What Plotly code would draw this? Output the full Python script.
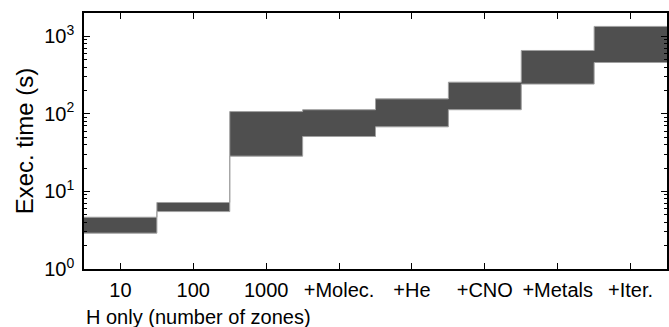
import plotly.graph_objects as go

categories = ["10", "100", "1000", "+Molec.", "+He", "+CNO", "+Metals", "+Iter."]
upper = [4.65, 7.2, 107, 113, 156, 256, 656, 1340]
lower = [2.9, 5.5, 28.5, 51, 68, 113, 242, 459]

n = len(categories)
edges = [i - 0.5 for i in range(n + 1)]
yu = upper + [upper[-1]]
yl = lower + [lower[-1]]

FONT = "Liberation Sans, Arial, Helvetica, sans-serif"
fig = go.Figure()
fig.add_trace(go.Scatter(x=edges, y=yu, mode="lines", line=dict(shape="hv", color="#a0a0a0", width=1),
                         hoverinfo="skip", showlegend=False))
fig.add_trace(go.Scatter(x=edges, y=yl, mode="lines", line=dict(shape="hv", color="#a0a0a0", width=1),
                         fill="tonexty", fillcolor="#4f4f4f", hoverinfo="skip", showlegend=False))

fig.update_layout(
    width=669, height=327,
    margin=dict(l=84, r=0, t=13, b=58),
    paper_bgcolor="white", plot_bgcolor="white",
    font=dict(family=FONT, size=20, color="black"),
    xaxis=dict(range=[-0.5, n - 0.5], tickvals=list(range(n)), ticktext=categories,
               ticks="inside", ticklen=6, tickwidth=1, tickcolor="black",
               showline=True, linecolor="black", linewidth=1.5, mirror="allticks",
               showgrid=False, zeroline=False, ticklabelstandoff=2),
    yaxis=dict(type="log", range=[0, 3.3], tickvals=[1, 10, 100, 1000],
               ticktext=["10<sup>0</sup>", "10<sup>1</sup>", "10<sup>2</sup>", "10<sup>3</sup>"],
               ticks="inside", ticklen=6, tickwidth=1, tickcolor="black",
               minor=dict(ticks="inside", ticklen=3, tickcolor="black", tickwidth=1, showgrid=False,
                          tickvals=[m * 10 ** e for e in range(0, 4) for m in range(2, 10)]),
               showline=True, linecolor="black", linewidth=1.5, mirror="allticks",
               showgrid=False, zeroline=False, ticklabelstandoff=4,
               title=dict(text="Exec. time (s)", standoff=4)),
)
fig.add_annotation(text="H only (number of zones)", xref="paper", yref="paper", x=0, y=0,
                   xanchor="left", yanchor="top", yshift=-35, showarrow=False,
                   font=dict(family=FONT, size=20))
fig.write_html("out.html")
